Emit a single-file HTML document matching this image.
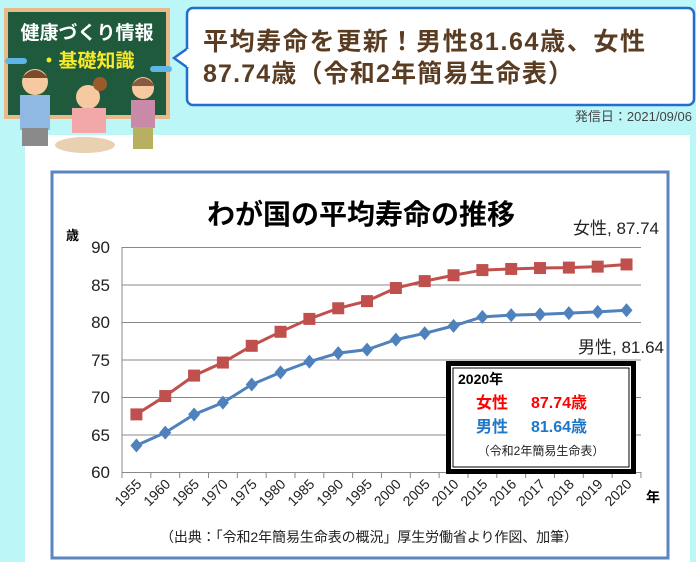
<!DOCTYPE html>
<html><head><meta charset="utf-8"><style>
html,body{margin:0;padding:0;width:696px;height:562px;overflow:hidden;background:#bdf6f6}
svg{display:block;font-family:"Liberation Sans","Noto Sans CJK JP",sans-serif}
</style></head><body>
<svg width="696" height="562" viewBox="0 0 696 562">
<rect x="0" y="0" width="696" height="562" fill="#bdf6f6"/>
<rect x="25" y="135" width="665" height="427" fill="#fff"/>
<!-- logo board -->
<rect x="4" y="8" width="166" height="111" fill="#e8b98a"/>
<rect x="8" y="12" width="158" height="103" fill="#1f5a3c"/>
<text x="87" y="39" font-size="19" font-weight="bold" fill="#fff" text-anchor="middle">健康づくり情報</text>
<text x="87" y="67" font-size="19" font-weight="bold" fill="#f6e82a" text-anchor="middle">・基礎知識</text>
<rect x="5" y="58" width="22" height="6" rx="3" fill="#5fb6e6"/>
<rect x="150" y="66" width="22" height="6" rx="3" fill="#5fb6e6"/>
<circle cx="35" cy="82" r="13" fill="#f6c9a0"/><path d="M22 78 Q35 62 48 78Z" fill="#7a4a2a"/>
<rect x="20" y="95" width="30" height="35" fill="#8fb9e3"/><rect x="22" y="128" width="26" height="18" fill="#8a8a8a"/>
<circle cx="88" cy="97" r="12" fill="#f6c9a0"/><circle cx="100" cy="84" r="7" fill="#9a5a2a"/>
<rect x="72" y="108" width="34" height="25" fill="#f2a8a8"/>
<ellipse cx="85" cy="145" rx="30" ry="8" fill="#e8d0b0"/>
<circle cx="143" cy="88" r="11" fill="#f6c9a0"/><path d="M131 86 Q143 70 155 86Z" fill="#8a5a40"/>
<rect x="131" y="100" width="24" height="28" fill="#c88aa8"/><rect x="133" y="127" width="20" height="22" fill="#b8b060"/>
<!-- bubble -->
<rect x="187" y="8" width="507" height="97" rx="6" fill="#fff" stroke="#1f6fcf" stroke-width="2.5"/>
<path d="M188 48 L174 58 L188 68" fill="#fff" stroke="#1f6fcf" stroke-width="2.5"/>
<rect x="187" y="49" width="3" height="18" fill="#fff"/>
<text x="203" y="50" font-size="25" font-weight="bold" fill="#5a3c22" textLength="442" lengthAdjust="spacing">平均寿命を更新！男性81.64歳、女性</text>
<text x="203" y="82" font-size="25" font-weight="bold" fill="#5a3c22" textLength="370" lengthAdjust="spacing">87.74歳（令和2年簡易生命表）</text>
<text x="692" y="121" font-size="13" fill="#444" text-anchor="end">発信日：2021/09/06</text>
<!-- chart frame -->
<rect x="52" y="172" width="616" height="386" fill="#fff" stroke="#5b86bf" stroke-width="3"/>
<text x="361" y="224" font-size="28" font-weight="bold" fill="#000" text-anchor="middle">わが国の平均寿命の推移</text>
<text x="659" y="234" font-size="17" fill="#222" text-anchor="end">女性, 87.74</text>
<text x="664" y="353" font-size="17" fill="#222" text-anchor="end">男性, 81.64</text>
<text x="66" y="240" font-size="13" font-weight="bold" fill="#000">歳</text>
<g stroke="#888" stroke-width="1">
<line x1="122" y1="247.5" x2="641" y2="247.5"/>
<line x1="122" y1="285" x2="641" y2="285"/>
<line x1="122" y1="322.5" x2="641" y2="322.5"/>
<line x1="122" y1="360" x2="641" y2="360"/>
<line x1="122" y1="397.5" x2="641" y2="397.5"/>
<line x1="122" y1="435" x2="641" y2="435"/>
<line x1="122" y1="472.5" x2="641" y2="472.5"/>
<line x1="122" y1="247" x2="122" y2="473"/>
</g>
<g font-size="17" fill="#222" text-anchor="end">
<text x="110" y="253">90</text><text x="110" y="291">85</text><text x="110" y="328">80</text>
<text x="110" y="366">75</text><text x="110" y="403">70</text><text x="110" y="441">65</text><text x="110" y="478">60</text>
</g>
<g id="ticks" stroke="#888"></g>
<g id="xl" font-size="14" fill="#222"></g>
<polyline id="fl" fill="none" stroke="#c0504d" stroke-width="3"/>
<polyline id="ml" fill="none" stroke="#4f81bd" stroke-width="3"/>
<g id="fm" fill="#c0504d"></g>
<g id="mm" fill="#4f81bd"></g>
<text x="646" y="502" font-size="14" font-weight="bold" fill="#000">年</text>
<text x="369" y="542" font-size="14" fill="#222" text-anchor="middle" textLength="418" lengthAdjust="spacing">（出典：「令和2年簡易生命表の概況」厚生労働省より作図、加筆）</text>
<!-- inset -->
<rect x="446" y="361" width="190" height="113" fill="#000"/>
<rect x="451" y="366" width="180" height="103" fill="#fff"/>
<rect x="453" y="368" width="176" height="99" fill="none" stroke="#000" stroke-width="1"/>
<text x="458" y="384" font-size="14" font-weight="bold" fill="#000">2020年</text>
<text x="476" y="408" font-size="16" font-weight="bold" fill="#f00">女性</text>
<text x="531" y="408" font-size="16" font-weight="bold" fill="#f00">87.74歳</text>
<text x="476" y="432" font-size="16" font-weight="bold" fill="#1f77c8">男性</text>
<text x="531" y="432" font-size="16" font-weight="bold" fill="#1f77c8">81.64歳</text>
<text x="541" y="455" font-size="12" fill="#222" text-anchor="middle">（令和2年簡易生命表）</text>
</svg>
<script>
var yrs=["1955","1960","1965","1970","1975","1980","1985","1990","1995","2000","2005","2010","2015","2016","2017","2018","2019","2020"];
var f=[67.75,70.19,72.92,74.66,76.89,78.76,80.48,81.90,82.85,84.60,85.52,86.30,86.99,87.14,87.26,87.32,87.45,87.74];
var m=[63.60,65.32,67.74,69.31,71.73,73.35,74.78,75.92,76.38,77.72,78.56,79.55,80.75,80.98,81.09,81.25,81.41,81.64];
var NS="http://www.w3.org/2000/svg";
function X(i){return 122+28.83*(i+0.5)}function Y(v){return 472.5-(v-60)*7.5}
var pf=[],pm=[];
for(var i=0;i<18;i++){
 pf.push(X(i)+","+Y(f[i]));pm.push(X(i)+","+Y(m[i]));
 var r=document.createElementNS(NS,"rect");r.setAttribute("x",X(i)-6);r.setAttribute("y",Y(f[i])-6);r.setAttribute("width",12);r.setAttribute("height",12);document.getElementById("fm").appendChild(r);
 var p=document.createElementNS(NS,"polygon");var x=X(i),y=Y(m[i]);p.setAttribute("points",x+","+(y-7)+" "+(x+6)+","+y+" "+x+","+(y+7)+" "+(x-6)+","+y);document.getElementById("mm").appendChild(p);
 var t=document.createElementNS(NS,"text");t.setAttribute("transform","translate("+(X(i)+6)+",485) rotate(-45)");t.setAttribute("text-anchor","end");t.textContent=yrs[i];document.getElementById("xl").appendChild(t);
}
for(var i=0;i<=18;i++){var l=document.createElementNS(NS,"line");var xx=122+28.83*i;l.setAttribute("x1",xx);l.setAttribute("x2",xx);l.setAttribute("y1",472);l.setAttribute("y2",478);document.getElementById("ticks").appendChild(l);}
document.getElementById("fl").setAttribute("points",pf.join(" "));
document.getElementById("ml").setAttribute("points",pm.join(" "));
</script>
</body></html>
